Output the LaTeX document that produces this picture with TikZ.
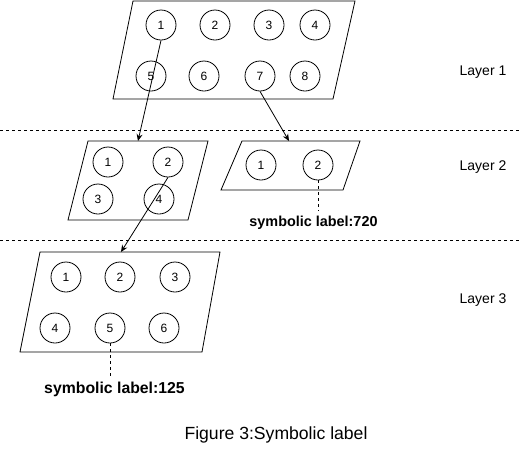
\documentclass[tikz,border=0pt]{standalone}
\usepackage{fontspec}
\setmainfont{Liberation Sans}
\usetikzlibrary{arrows.meta}
\begin{document}
\begin{tikzpicture}[x=1pt,y=-1pt,
  cnode/.style={draw,circle,minimum size=30pt,inner sep=0pt,font=\fontsize{12}{14}\selectfont,line width=0.8pt},
  plate/.style={draw,line width=0.8pt},
  sep/.style={dashed,line width=0.8pt},
  link/.style={line width=0.8pt,-{Stealth[length=7pt,width=6pt]}},
  lead/.style={dashed,line width=0.8pt},
  lbl/.style={font=\fontsize{14}{16}\selectfont},
  blbl/.style={font=\bfseries\fontsize{14.4}{16}\selectfont},
  blblb/.style={font=\bfseries\fontsize{15.8}{18}\selectfont}]
\useasboundingbox (0,0) rectangle (522,448);
% separators
\coordinate (s1a) at (0,130); \coordinate (s1b) at (522,130);
\coordinate (s2a) at (0,240); \coordinate (s2b) at (522,240);
\draw[sep] (s1a) -- (s1b);
\draw[sep] (s2a) -- (s2b);
% layer 1
\draw[plate] (113,99) -- (333,99) -- (355,1) -- (133,1) -- cycle;
\node[cnode] (a1) at (161,25) {1};
\node[cnode] (a2) at (215,25) {2};
\node[cnode] (a3) at (269,25) {3};
\node[cnode] (a4) at (315,25) {4};
\node[cnode] (a5) at (151,76) {5};
\node[cnode] (a6) at (204,76) {6};
\node[cnode] (a7) at (260,76) {7};
\node[cnode] (a8) at (305,76) {8};
% layer 2 left
\draw[plate] (68,220) -- (188,220) -- (208,141) -- (88,141) -- cycle;
\node[cnode] (b1) at (108,162) {1};
\node[cnode] (b2) at (168,162) {2};
\node[cnode] (b3) at (98,199) {3};
\node[cnode] (b4) at (159,199) {4};
% layer 2 right
\draw[plate] (221,190) -- (343,190) -- (360,141) -- (242,141) -- cycle;
\node[cnode] (c1) at (261,165) {1};
\node[cnode] (c2) at (318,165) {2};
% layer 3
\draw[plate] (20,352) -- (202,352) -- (220,252) -- (40,252) -- cycle;
\node[cnode] (d1) at (66,277) {1};
\node[cnode] (d2) at (120,277) {2};
\node[cnode] (d3) at (175,277) {3};
\node[cnode] (d4) at (55,328) {4};
\node[cnode] (d5) at (110,328) {5};
\node[cnode] (d6) at (164,328) {6};
% arrows
\coordinate (t1) at (138,141);
\coordinate (t2) at (289,141);
\coordinate (t3) at (121,252);
\draw[link] (a1.south) -- (t1);
\draw[link] (a7.south) -- (t2);
\draw[link] (b2.south) -- (t3);
% symbolic labels
\node[blbl] (sl720) at (313.5,223) {symbolic label:720};
\node[blblb] (sl125) at (114.5,389) {symbolic label:125};
\draw[lead] (c2.south) -- (c2.south |- 0,211);
\draw[lead] (d5.south) -- (d5.south |- 0,377);
% layer labels
\node[lbl] (L1) at (483,72) {Layer 1};
\node[lbl] (L2) at (483,167) {Layer 2};
\node[lbl] (L3) at (483,300) {Layer 3};
% caption
\node[font=\fontsize{17.6}{20}\selectfont] (cap) at (276,435) {Figure 3:Symbolic label};
\end{tikzpicture}
\end{document}
